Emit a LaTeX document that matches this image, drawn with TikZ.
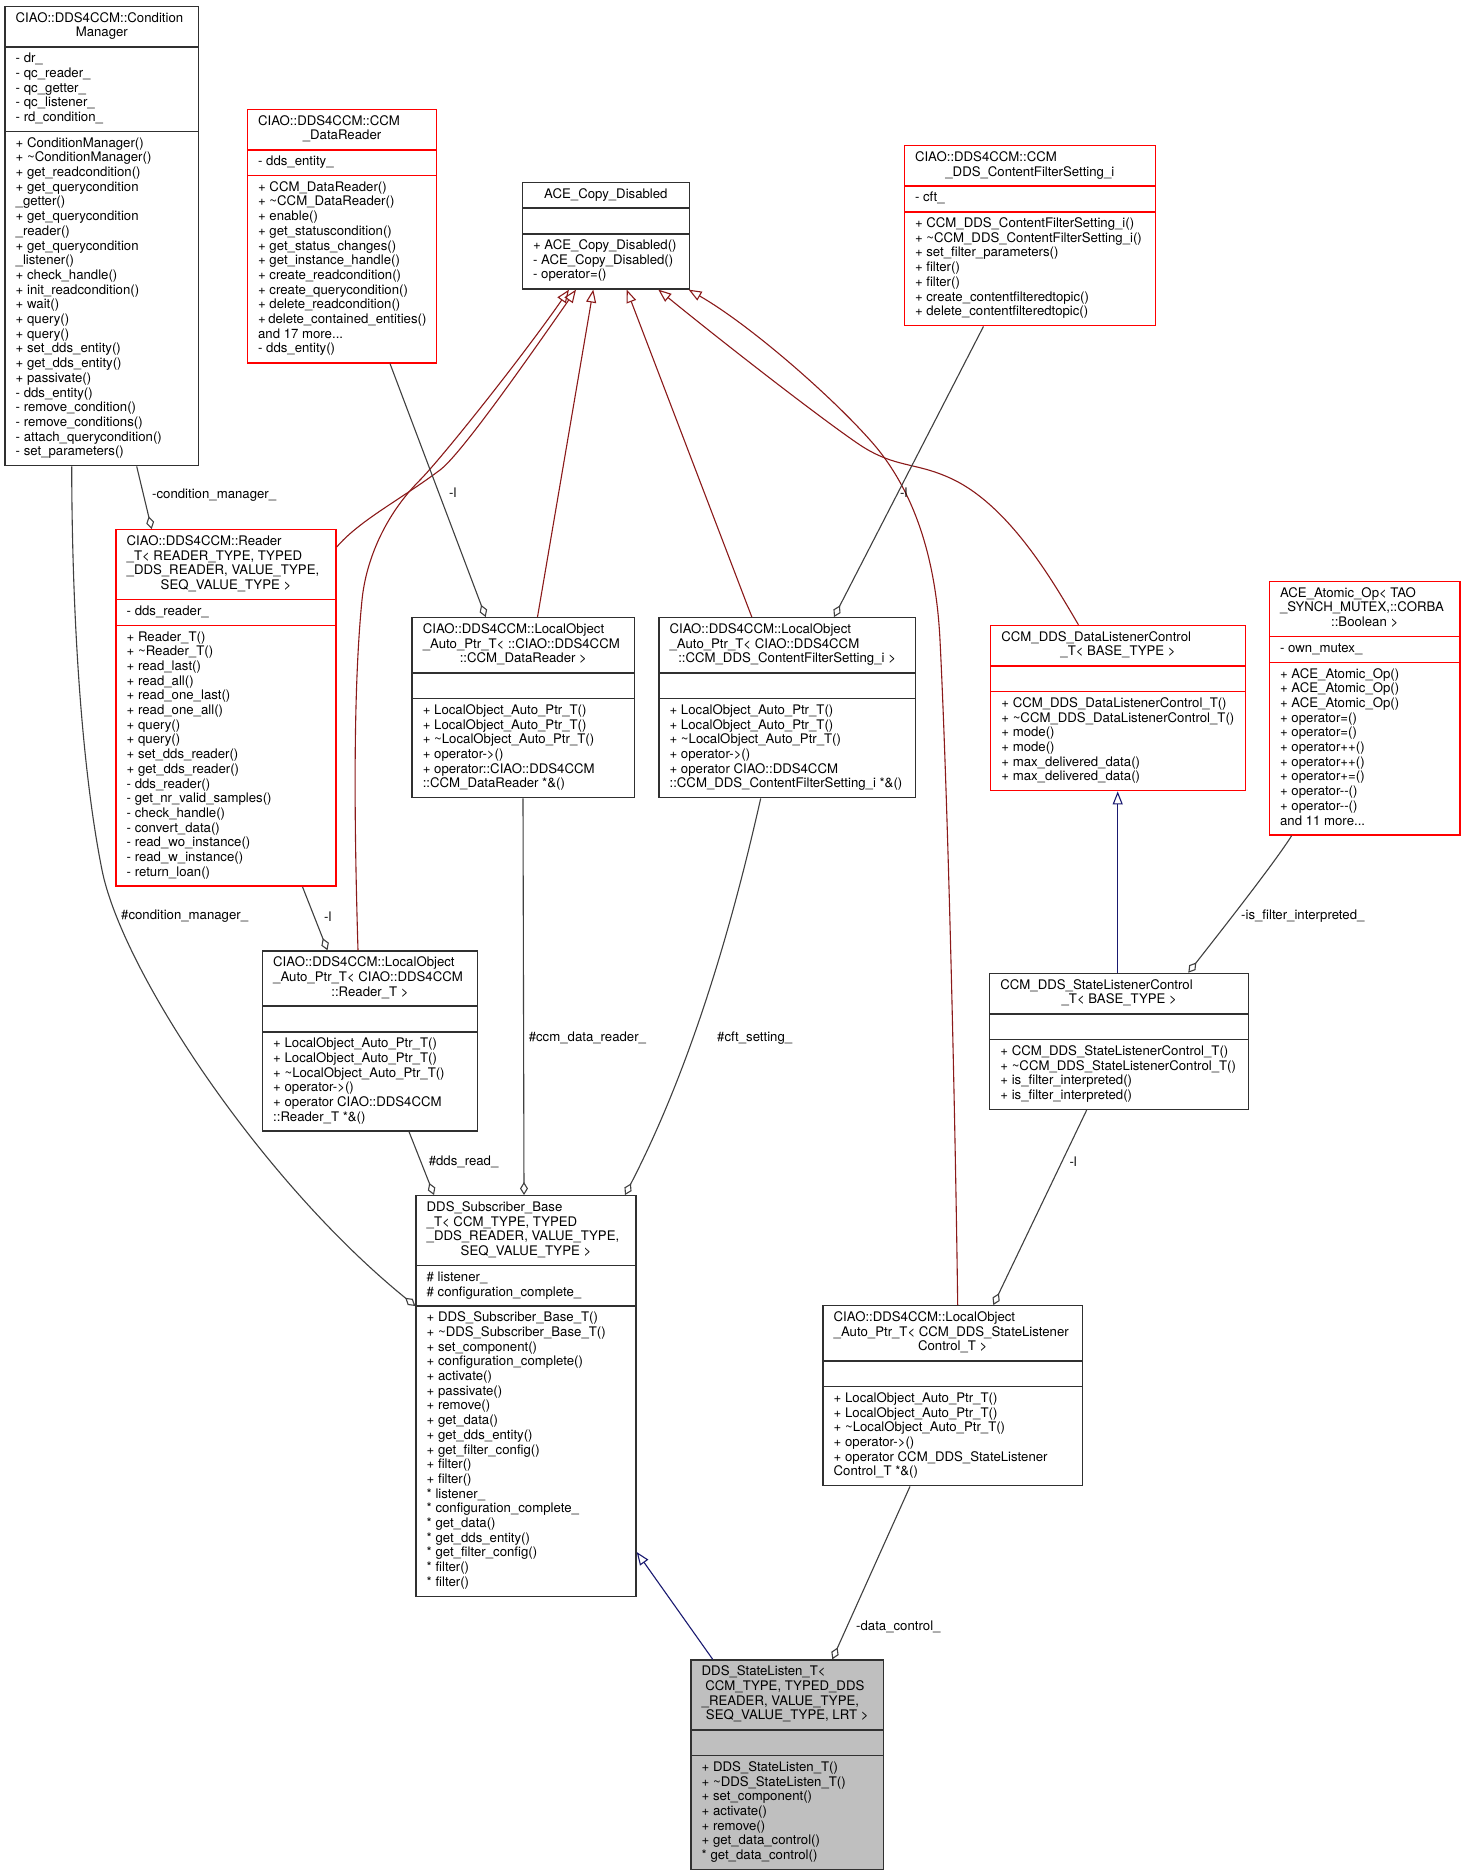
\documentclass[tikz,border=0pt]{standalone}
\usepackage{fontspec}
\setmainfont{TeX Gyre Heros}[Ligatures=NoCommon]
\usetikzlibrary{arrows.meta}
\definecolor{edgegray}{HTML}{404040}
\definecolor{boxblack}{HTML}{303030}
\definecolor{boxred}{HTML}{FF0000}
\definecolor{darkred}{HTML}{8B1A1A}
\definecolor{midblue}{HTML}{191970}
\definecolor{boxgray}{HTML}{BFBFBF}
\hyphenpenalty=10000
\exhyphenpenalty=10000
\newcommand\cfont{\fontsize{13.2}{14.7}\selectfont}
\newcommand\ctr[1]{\hspace*{\fill}#1\hspace*{\fill}}
\newcommand\tl{\textasciitilde}
% one section of a class box: #1 text width, #2 lines
\newcommand\sect[2]{\vbox{\kern5.5pt\hbox{\kern10.7pt\parbox[t]{#1}{\raggedright\strut#2\strut}\kern10.7pt}\kern5.5pt}}
\newcommand\seprule[1]{{\color{#1}\kern-0.7pt\hrule height 1.4pt\kern-0.7pt}}
% #1 colour, #2 text width, #3 title, #4 attributes, #5 methods
\newcommand\classbox[5]{\vbox{\hsize=\dimexpr#2+21.4pt\relax
  \sect{#2}{#3}\seprule{#1}\sect{#2}{#4}\seprule{#1}\sect{#2}{#5}}}
\begin{document}
\begin{tikzpicture}[x=1pt,y=-1pt,
  cls/.style={rectangle, draw=#1, line width=1.4pt, inner sep=0pt, anchor=north west, font=\cfont, text=black},
  cls/.default=boxblack,
  lbl/.style={font=\cfont, anchor=west, inner sep=0pt, text=black},
  agg/.style={draw=edgegray, line width=1.1pt, -{Diamond[open,length=13pt,width=8pt]}},
  inhR/.style={draw=darkred, line width=1.1pt, -{Triangle[open,length=13pt,width=10pt]}},
  inhB/.style={draw=midblue, line width=1.1pt, -{Triangle[open,length=13pt,width=10pt]}}]
\fill[white] (0,0) rectangle (1464,1875);
\useasboundingbox (0,0) rectangle (1464,1875);

% ConditionManager
\node[cls] (cm) at (4.3,5.7) {\classbox{boxblack}{172.3pt}
{CIAO::DDS4CCM::Condition\\\ctr{Manager}}
{-~dr\_\\-~qc\_reader\_\\-~qc\_getter\_\\-~qc\_listener\_\\-~rd\_condition\_}
{+~ConditionManager()\\+~\tl ConditionManager()\\+~get\_readcondition()\\+~get\_querycondition\\\_getter()\\+~get\_querycondition\\\_reader()\\+~get\_querycondition\\\_listener()\\+~check\_handle()\\+~init\_readcondition()\\+~wait()\\+~query()\\+~query()\\+~set\_dds\_entity()\\+~get\_dds\_entity()\\+~passivate()\\-~dds\_entity()\\-~remove\_condition()\\-~remove\_conditions()\\-~attach\_querycondition()\\-~set\_parameters()}};

% CCM_DataReader
\node[cls=boxred] (dr) at (246.7,108.7) {\classbox{boxred}{167.9pt}
{CIAO::DDS4CCM::CCM\\\ctr{\_DataReader}}
{-~dds\_entity\_}
{+~CCM\_DataReader()\\+~\tl CCM\_DataReader()\\+~enable()\\+~get\_statuscondition()\\+~get\_status\_changes()\\+~get\_instance\_handle()\\+~create\_readcondition()\\+~create\_querycondition()\\+~delete\_readcondition()\\+~delete\_contained\_entities()\\and~17~more...\\-~dds\_entity()}};

% ACE_Copy_Disabled
\node[cls] (ace) at (521.7,181.7) {\classbox{boxblack}{145.6pt}
{\ctr{ACE\_Copy\_Disabled}}
{}
{+~ACE\_Copy\_Disabled()\\-~ACE\_Copy\_Disabled()\\-~operator=()}};

% CCM_DDS_ContentFilterSetting_i
\node[cls=boxred] (cfs) at (903.6,145) {\classbox{boxred}{229.7pt}
{CIAO::DDS4CCM::CCM\\\ctr{\_DDS\_ContentFilterSetting\_i}}
{-~cft\_}
{+~CCM\_DDS\_ContentFilterSetting\_i()\\+~\tl CCM\_DDS\_ContentFilterSetting\_i()\\+~set\_filter\_parameters()\\+~filter()\\+~filter()\\+~create\_contentfilteredtopic()\\+~delete\_contentfilteredtopic()}};

% Reader_T
\node[cls=boxred] (rt) at (115.3,529) {\classbox{boxred}{198.6pt}
{CIAO::DDS4CCM::Reader\\\_T<~READER\_TYPE,~TYPED\\\_DDS\_READER,~VALUE\_TYPE,\\\ctr{SEQ\_VALUE\_TYPE~>}}
{-~dds\_reader\_}
{+~Reader\_T()\\+~\tl Reader\_T()\\+~read\_last()\\+~read\_all()\\+~read\_one\_last()\\+~read\_one\_all()\\+~query()\\+~query()\\+~set\_dds\_reader()\\+~get\_dds\_reader()\\-~dds\_reader()\\-~get\_nr\_valid\_samples()\\-~check\_handle()\\-~convert\_data()\\-~read\_wo\_instance()\\-~read\_w\_instance()\\-~return\_loan()}};

% LocalObject DataReader
\node[cls] (lodr) at (411.4,617) {\classbox{boxblack}{201.1pt}
{CIAO::DDS4CCM::LocalObject\\\_Auto\_Ptr\_T<~::CIAO::DDS4CCM\\\ctr{::CCM\_DataReader~>}}
{}
{+~LocalObject\_Auto\_Ptr\_T()\\+~LocalObject\_Auto\_Ptr\_T()\\+~\tl LocalObject\_Auto\_Ptr\_T()\\+~operator->()\\+~operator::CIAO::DDS4CCM\\::CCM\_DataReader~*\&()}};

% LocalObject ContentFilterSetting
\node[cls] (locfs) at (658.2,617) {\classbox{boxblack}{235pt}
{CIAO::DDS4CCM::LocalObject\\\_Auto\_Ptr\_T<~CIAO::DDS4CCM\\\ctr{::CCM\_DDS\_ContentFilterSetting\_i~>}}
{}
{+~LocalObject\_Auto\_Ptr\_T()\\+~LocalObject\_Auto\_Ptr\_T()\\+~\tl LocalObject\_Auto\_Ptr\_T()\\+~operator->()\\+~operator~CIAO::DDS4CCM\\::CCM\_DDS\_ContentFilterSetting\_i~*\&()}};

% DataListenerControl
\node[cls=boxred] (dlc) at (990,624.7) {\classbox{boxred}{233.3pt}
{CCM\_DDS\_DataListenerControl\\\ctr{\_T<~BASE\_TYPE~>}}
{}
{+~CCM\_DDS\_DataListenerControl\_T()\\+~\tl CCM\_DDS\_DataListenerControl\_T()\\+~mode()\\+~mode()\\+~max\_delivered\_data()\\+~max\_delivered\_data()}};

% ACE_Atomic_Op
\node[cls=boxred] (atom) at (1268.7,580.7) {\classbox{boxred}{169.2pt}
{ACE\_Atomic\_Op<~TAO\\\_SYNCH\_MUTEX,::CORBA\\\ctr{::Boolean~>}}
{-~own\_mutex\_}
{+~ACE\_Atomic\_Op()\\+~ACE\_Atomic\_Op()\\+~ACE\_Atomic\_Op()\\+~operator=()\\+~operator=()\\+~operator++()\\+~operator++()\\+~operator+=()\\+~operator-\kern0pt-()\\+~operator-\kern0pt-()\\and~11~more...}};

% LocalObject Reader_T
\node[cls] (lort) at (261.8,950.3) {\classbox{boxblack}{193.6pt}
{CIAO::DDS4CCM::LocalObject\\\_Auto\_Ptr\_T<~CIAO::DDS4CCM\\\ctr{::Reader\_T~>}}
{}
{+~LocalObject\_Auto\_Ptr\_T()\\+~LocalObject\_Auto\_Ptr\_T()\\+~\tl LocalObject\_Auto\_Ptr\_T()\\+~operator->()\\+~operator~CIAO::DDS4CCM\\::Reader\_T~*\&()}};

% StateListenerControl
\node[cls] (slc) at (989,972.7) {\classbox{boxblack}{237.6pt}
{CCM\_DDS\_StateListenerControl\\\ctr{\_T<~BASE\_TYPE~>}}
{}
{+~CCM\_DDS\_StateListenerControl\_T()\\+~\tl CCM\_DDS\_StateListenerControl\_T()\\+~is\_filter\_interpreted()\\+~is\_filter\_interpreted()}};

% DDS_Subscriber_Base_T
\node[cls] (sub) at (415.3,1195) {\classbox{boxblack}{198.6pt}
{DDS\_Subscriber\_Base\\\_T<~CCM\_TYPE,~TYPED\\\_DDS\_READER,~VALUE\_TYPE,\\\ctr{SEQ\_VALUE\_TYPE~>}}
{\#~listener\_\\\#~configuration\_complete\_}
{+~DDS\_Subscriber\_Base\_T()\\+~\tl DDS\_Subscriber\_Base\_T()\\+~set\_component()\\+~configuration\_complete()\\+~activate()\\+~passivate()\\+~remove()\\+~get\_data()\\+~get\_dds\_entity()\\+~get\_filter\_config()\\+~filter()\\+~filter()\\{}*~listener\_\\{}*~configuration\_complete\_\\{}*~get\_data()\\{}*~get\_dds\_entity()\\{}*~get\_filter\_config()\\{}*~filter()\\{}*~filter()}};

% LocalObject StateListenerControl
\node[cls] (losl) at (822.3,1305) {\classbox{boxblack}{238pt}
{CIAO::DDS4CCM::LocalObject\\\_Auto\_Ptr\_T<~CCM\_DDS\_StateListener\\\ctr{Control\_T~>}}
{}
{+~LocalObject\_Auto\_Ptr\_T()\\+~LocalObject\_Auto\_Ptr\_T()\\+~\tl LocalObject\_Auto\_Ptr\_T()\\+~operator->()\\+~operator~CCM\_DDS\_StateListener\\Control\_T~*\&()}};

% DDS_StateListen_T (main class)
\node[cls, fill=boxgray] (main) at (690.3,1659.3) {\classbox{boxblack}{171pt}
{DDS\_StateListen\_T<\\\hspace*{3.7pt}CCM\_TYPE,~TYPED\_DDS\\\_READER,~VALUE\_TYPE,\\\ctr{SEQ\_VALUE\_TYPE,~LRT~>}}
{}
{+~DDS\_StateListen\_T()\\+~\tl DDS\_StateListen\_T()\\+~set\_component()\\+~activate()\\+~remove()\\+~get\_data\_control()\\{}*~get\_data\_control()}};

% ---- inheritance to ACE_Copy_Disabled
\draw[inhR] ([yshift=-18pt]rt.north east) .. controls (360,520) and (400,500) .. (440,470) .. controls (460,455) and (520,370) .. ([xshift=54.3pt]ace.south west);
\draw[inhR] ([xshift=96.2pt]lort.north west) .. controls (355,850) and (352,700) .. (362,600) .. controls (366,560) and (385,515) .. (420,480) .. controls (440,460) and (520,360) .. ([xshift=47.3pt]ace.south west);
\draw[inhR] ([xshift=126.1pt]lodr.north west) -- ([xshift=71.6pt]ace.south west);
\draw[inhR] ([xshift=93.6pt]locfs.north west) -- ([xshift=105pt]ace.south west);
\draw[inhR] ([xshift=88.4pt]dlc.north west) .. controls (1055,585) and (1010,505) .. (950,478) .. controls (915,462) and (895,468) .. (860,445) .. controls (820,418) and (720,340) .. ([xshift=136.6pt]ace.south west);
\draw[inhR] ([xshift=135.4pt]losl.north west) .. controls (955,1100) and (948,800) .. (940,640) .. controls (936,560) and (915,490) .. (870,440) .. controls (830,395) and (750,325) .. ([xshift=-1.5pt]ace.south east);

% ---- public inheritance
\draw[inhB] ([xshift=128.7pt]slc.north west) -- ([xshift=127.7pt]dlc.south west);
\draw[inhB] ([xshift=22.4pt]main.north west) -- ([yshift=-357pt]sub.north east);

% ---- aggregations
\draw[agg] ([xshift=132.4pt]cm.south west) -- ([xshift=36.4pt]rt.north west);
\draw[agg] ([xshift=67.4pt]cm.south west) .. controls (72,620) and (82,770) .. (102,870) .. controls (122,970) and (260,1180) .. ([yshift=-111pt]sub.north west);
\draw[agg] ([xshift=143.3pt]dr.south west) -- ([xshift=74.3pt]lodr.north west);
\draw[agg] ([xshift=79.9pt]cfs.south west) -- ([xshift=175.8pt]locfs.north west);
\draw[agg] ([xshift=187.2pt]rt.south west) -- ([xshift=65.7pt]lort.north west);
\draw[agg] ([xshift=147.2pt]lort.south west) -- ([xshift=18.7pt]sub.north west);
\draw[agg] ([xshift=111.6pt]lodr.south west) -- ([xshift=108.7pt]sub.north west);
\draw[agg] ([xshift=102.5pt]locfs.south west) .. controls (740,890) and (700,1050) .. ([xshift=209.7pt]sub.north west);
\draw[agg] ([xshift=23pt]atom.south west) .. controls (1275,862) and (1228,922) .. ([xshift=199.3pt]slc.north west);
\draw[agg] ([xshift=97.7pt]slc.south west) -- ([xshift=171pt]losl.north west);
\draw[agg] ([xshift=87.7pt]losl.south west) -- ([xshift=142pt]main.north west);

% ---- labels
\node[lbl] (l1) at (152,495) {-condition\_manager\_};
\node[lbl] (l2) at (121,916.5) {\#condition\_manager\_};
\node[lbl] (l3) at (449,493) {-l};
\node[lbl] (l4) at (900,493) {-l};
\node[lbl] (l5) at (324,917) {-l};
\node[lbl] (l6) at (428.6,1162) {\#dds\_read\_};
\node[lbl] (l7) at (528.6,1038) {\#ccm\_data\_reader\_};
\node[lbl] (l8) at (717,1038) {\#cft\_setting\_};
\node[lbl] (l9) at (1241,916) {-is\_filter\_interpreted\_};
\node[lbl] (l10) at (1069.3,1161.7) {-l};
\node[lbl] (l11) at (856,1626.7) {-data\_control\_};
\end{tikzpicture}
\end{document}
